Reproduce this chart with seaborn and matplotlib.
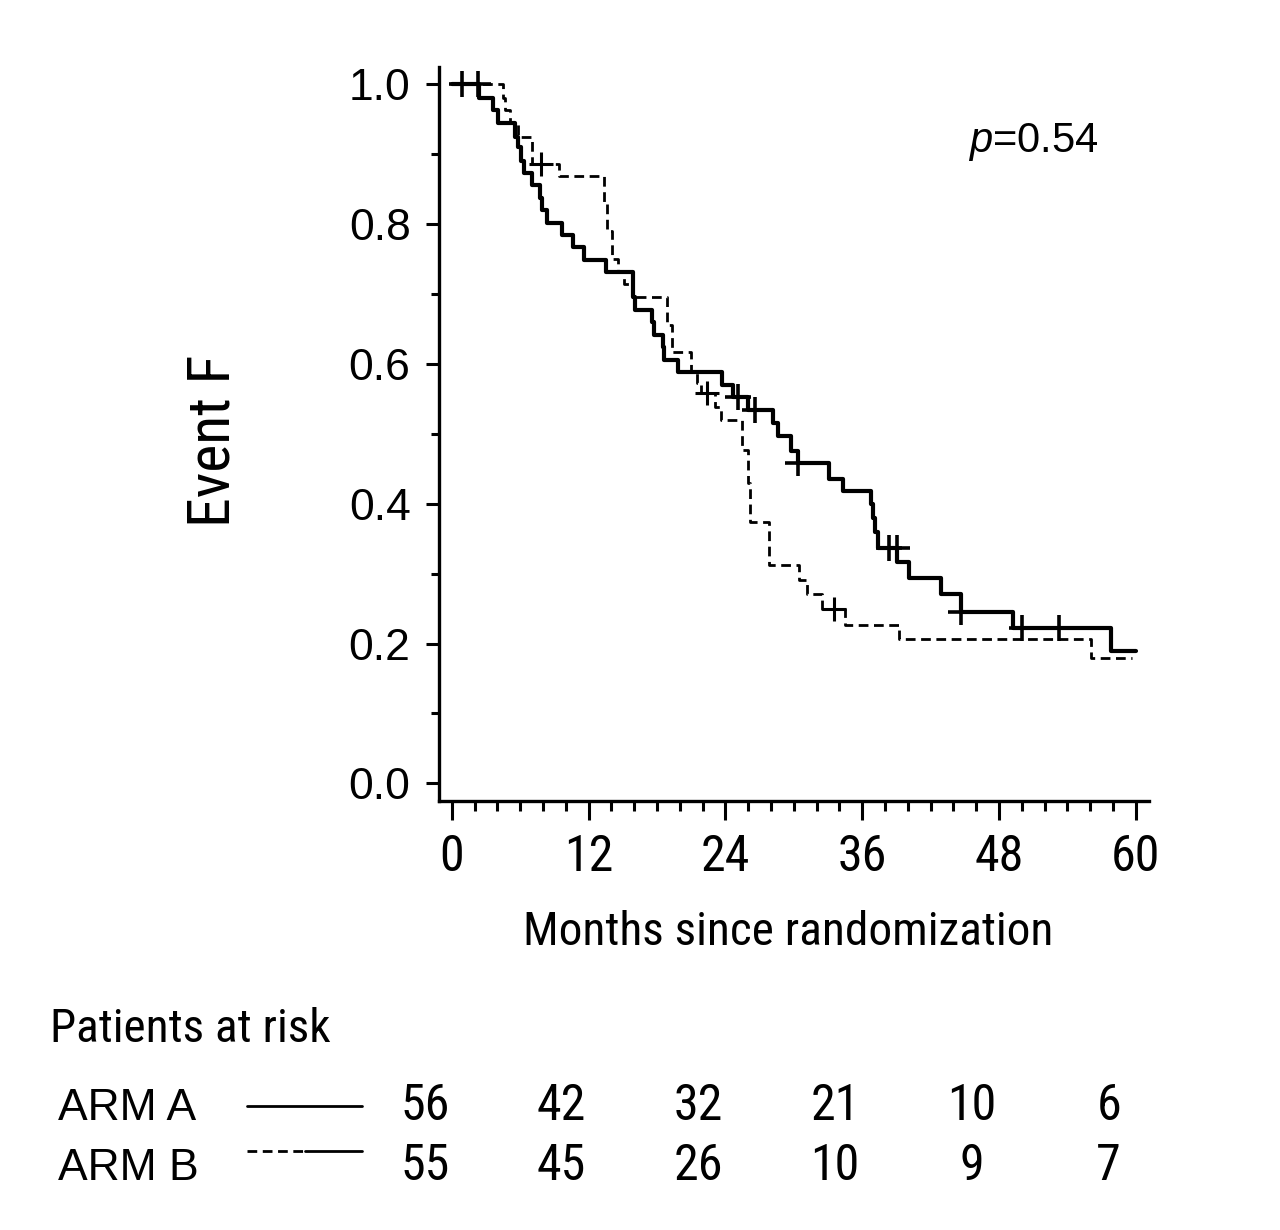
import matplotlib
matplotlib.use("Agg")
import matplotlib.pyplot as plt
import matplotlib.transforms as mtransforms
from matplotlib.lines import Line2D
from matplotlib.ticker import MultipleLocator
import pandas as pd
import seaborn as sns

# Kaplan-Meier steps (months, survival after the drop)
arm_a_time = [0, 2.39, 3.6, 4.03, 5.55, 5.8, 6.08, 6.34, 7.02, 7.75, 7.9, 8.33, 9.7,
              10.67, 11.63, 13.5, 15.9, 16.1, 17.54, 17.7, 18.56, 18.65, 19.82, 23.68,
              24.7, 26.0, 28.16, 28.6, 29.74, 30.4, 33.1, 34.3, 36.78, 36.96, 37.1,
              37.4, 39.1, 40.1, 42.9, 44.7, 49.2, 57.8, 60.0]
arm_a_surv = [1.0, 0.980, 0.963, 0.945, 0.925, 0.91, 0.89, 0.873, 0.856, 0.838, 0.82,
              0.802, 0.785, 0.767, 0.749, 0.731, 0.695, 0.677, 0.66, 0.642, 0.624, 0.606,
              0.588, 0.570, 0.553, 0.534, 0.515, 0.497, 0.476, 0.458, 0.436, 0.418, 0.40,
              0.38, 0.36, 0.336, 0.316, 0.294, 0.271, 0.245, 0.222, 0.19, 0.19]
arm_a_cens_time = [0.9, 2.3, 25.1, 26.6, 30.4, 38.4, 39.1, 44.7, 50.0, 53.3]
arm_a_cens_surv = [1.0, 1.0, 0.553, 0.534, 0.458, 0.336, 0.336, 0.245, 0.222, 0.222]

arm_b_time = [0, 4.47, 4.7, 5.1, 5.8, 7.02, 9.41, 13.36, 13.6, 14.1, 14.6, 15.1, 15.9,
              18.86, 19.3, 20.96, 21.5, 21.9, 23.1, 23.6, 25.5, 26.0, 26.2, 27.8, 30.5,
              31.2, 32.5, 34.5, 39.25, 56.1, 59.65]
arm_b_surv = [1.0, 0.98, 0.963, 0.944, 0.924, 0.886, 0.869, 0.83, 0.79, 0.75, 0.733,
              0.714, 0.695, 0.656, 0.617, 0.588, 0.572, 0.558, 0.539, 0.520, 0.477, 0.43,
              0.374, 0.312, 0.291, 0.271, 0.249, 0.226, 0.206, 0.179, 0.179]
arm_b_cens_time = [7.83, 22.4, 33.5]
arm_b_cens_surv = [0.886, 0.558, 0.249]

risk_times = [0, 12, 24, 36, 48, 60]
risk_a = [56, 42, 32, 21, 10, 6]
risk_b = [55, 45, 26, 10, 9, 7]
p_text = "$p$=0.54"

sns.set_style("ticks")
plt.rcParams["font.family"] = ["Liberation Sans", "DejaVu Sans"]
plt.rcParams["text.color"] = "black"
plt.rcParams["xtick.color"] = "black"
plt.rcParams["ytick.color"] = "black"
plt.rcParams["mathtext.fontset"] = "custom"
plt.rcParams["mathtext.it"] = "Liberation Sans:italic"
plt.rcParams["mathtext.rm"] = "Liberation Sans"
narrow = ["Roboto Condensed", "Liberation Sans", "DejaVu Sans"]

fig = plt.figure(figsize=(12.8, 12.3), dpi=100)
ax = fig.add_axes([0.343, 0.349, 0.5547, 0.5968])

df_a = pd.DataFrame({"t": arm_a_time, "s": arm_a_surv})
df_b = pd.DataFrame({"t": arm_b_time, "s": arm_b_surv})
sns.lineplot(data=df_a, x="t", y="s", drawstyle="steps-post", estimator=None,
             sort=False, color="black", ax=ax)
sns.lineplot(data=df_b, x="t", y="s", drawstyle="steps-post", estimator=None,
             sort=False, color="black", ax=ax)
line_a, line_b = ax.lines[0], ax.lines[1]
line_a.set_linewidth(3.0)
line_b.set_linewidth(2.0)
line_b.set_linestyle((0, (3.5, 2)))
sns.scatterplot(x=arm_a_cens_time, y=arm_a_cens_surv, marker="+", s=340,
                color="black", linewidth=2.6, ax=ax, zorder=5)
sns.scatterplot(x=arm_b_cens_time, y=arm_b_cens_surv, marker="+", s=320,
                color="black", linewidth=2.2, ax=ax, zorder=5)

ax.set_xlim(-1.114, 61.17)
ax.set_ylim(-0.0249, 1.0252)
ax.set_xlabel("")
ax.set_ylabel("")
ax.xaxis.set_major_locator(MultipleLocator(12))
ax.xaxis.set_minor_locator(MultipleLocator(2))
ax.yaxis.set_minor_locator(MultipleLocator(0.1))
ax.set_yticks([0, 0.2, 0.4, 0.6, 0.8, 1.0])
ax.set_yticklabels(["0.0", "0.2", "0.4", "0.6", "0.8", "1.0"])
ax.tick_params(axis="x", which="major", length=13.5, width=2.2, pad=10, labelsize=36)
ax.tick_params(axis="x", which="minor", length=7.5, width=2.2)
ax.tick_params(axis="y", which="major", length=9.5, width=2.2, pad=11, labelsize=32)
ax.tick_params(axis="y", which="minor", length=6, width=2.2)
for lbl in ax.get_xticklabels():
    lbl.set_fontfamily(narrow)
for side in ["top", "right"]:
    ax.spines[side].set_visible(False)
for side in ["left", "bottom"]:
    ax.spines[side].set_linewidth(2.4)
    ax.spines[side].set_color("black")

fig.text(213 / 1280, 1 - 441 / 1230, "Event F", rotation=90, ha="center", va="center",
         fontsize=43, family=narrow)
fig.text(788 / 1280, 1 - 932 / 1230, "Months since randomization", ha="center",
         va="center", fontsize=34, family=narrow)
fig.text(968 / 1280, 1 - 152 / 1230, p_text, ha="left", va="baseline", fontsize=30)

# patients at risk table
fig.text(50 / 1280, 1 - 1042 / 1230, "Patients at risk", ha="left", va="baseline",
         fontsize=34, family=narrow)
fig.text(58 / 1280, 1 - 1120 / 1230, "ARM A", ha="left", va="baseline", fontsize=32)
fig.text(58 / 1280, 1 - 1180 / 1230, "ARM B", ha="left", va="baseline", fontsize=32)
fig.add_artist(Line2D([247 / 1280, 362 / 1280], [1 - 1106 / 1230] * 2, color="black",
                      linewidth=2.0, transform=fig.transFigure))
fig.add_artist(Line2D([247 / 1280, 305 / 1280], [1 - 1151 / 1230] * 2, color="black",
                      linewidth=2.0, linestyle=(0, (3.5, 2)), transform=fig.transFigure))
fig.add_artist(Line2D([305 / 1280, 362 / 1280], [1 - 1151 / 1230] * 2, color="black",
                      linewidth=2.0, transform=fig.transFigure))

blend = mtransforms.blended_transform_factory(ax.transData, fig.transFigure)
shift = blend + mtransforms.ScaledTranslation(-0.27, 0, fig.dpi_scale_trans)
for t, na, nb in zip(risk_times, risk_a, risk_b):
    ax.text(t, 1 - 1120 / 1230, str(na), ha="center", va="baseline", fontsize=36,
            family=narrow, transform=shift, clip_on=False)
    ax.text(t, 1 - 1180 / 1230, str(nb), ha="center", va="baseline", fontsize=36,
            family=narrow, transform=shift, clip_on=False)

fig.savefig("out.png", dpi=100, facecolor="white")
